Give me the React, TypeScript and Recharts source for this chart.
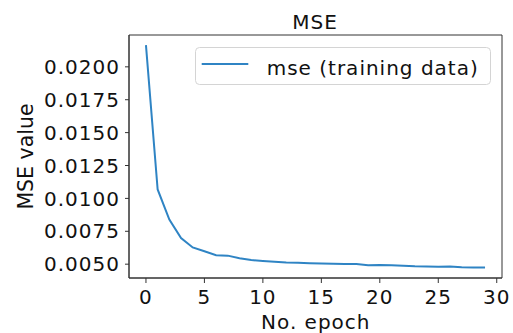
import { LineChart, Line, XAxis, YAxis, Legend, Label, ReferenceArea } from 'recharts'

const epochs = [
  0, 1, 2, 3, 4, 5, 6, 7, 8, 9, 10, 11, 12, 13, 14, 15, 16, 17, 18, 19, 20, 21, 22, 23, 24, 25, 26, 27, 28, 29,
]
const mseTraining = [
  0.02165, 0.01068, 0.00839, 0.00699, 0.00627, 0.00598, 0.00568, 0.00565, 0.00545, 0.00531, 0.00524, 0.00518,
  0.00513, 0.0051, 0.00508, 0.00506, 0.00504, 0.00502, 0.00501, 0.00492, 0.00494, 0.00491, 0.00488, 0.00484,
  0.00483, 0.0048, 0.00483, 0.00477, 0.00474, 0.00475,
]
const xTicks = [0, 5, 10, 15, 20, 25, 30]
const yTicks = [0.005, 0.0075, 0.01, 0.0125, 0.015, 0.0175, 0.02]

const chartTitle = 'MSE'
const xLabel = 'No. epoch'
const yLabel = 'MSE value'
const seriesName = 'mse (training data)'

const data = epochs.map((epoch, i) => ({ epoch, mse: mseTraining[i] }))

const X_DOMAIN = [-1.45, 30.45]
const Y_DOMAIN = [0.00395, 0.02242]

const FONT = '"DejaVu Sans", sans-serif'
const LINE_COLOR = '#2f84c4'
const AXIS_COLOR = '#333'
const TEXT_COLOR = '#111'

const tickStyle = { fontSize: 20, fill: TEXT_COLOR, fontFamily: FONT, letterSpacing: 1 }

const LegendBox = () => (
  <svg width={296} height={38}>
    <rect x={0.5} y={0.5} width={295} height={37} rx={4} fill="rgba(255,255,255,0.8)" stroke="#d4d4d4" />
    <line x1={6.7} y1={17} x2={53.3} y2={17} stroke={LINE_COLOR} strokeWidth={2} />
    <text x={71.7} y={28} fontSize={20} fontFamily={FONT} fill={TEXT_COLOR} letterSpacing={1}>
      {seriesName}
    </text>
  </svg>
)

export default function App() {
  return (
    <div style={{ position: 'absolute', left: 0, top: 0, width: 513, height: 333, background: '#fff' }}>
      <LineChart width={513} height={333} data={data} margin={{ top: 35, right: 11, bottom: 0, left: 0 }}>
        <XAxis
          dataKey="epoch"
          type="number"
          domain={X_DOMAIN}
          ticks={xTicks}
          allowDataOverflow
          height={55}
          tickSize={5}
          tickMargin={7}
          stroke={AXIS_COLOR}
          tick={tickStyle}
        >
          <Label
            content={() => (
              <text x={315.8} y={328.5} textAnchor="middle" fontSize={20} fontFamily={FONT} fill={TEXT_COLOR} letterSpacing={1}>
                {xLabel}
              </text>
            )}
          />
        </XAxis>
        <YAxis
          type="number"
          domain={Y_DOMAIN}
          ticks={yTicks}
          allowDataOverflow
          width={129}
          tickSize={4}
          tickMargin={5}
          stroke={AXIS_COLOR}
          tick={tickStyle}
          tickFormatter={(v: number) => v.toFixed(4)}
        >
          <Label
            content={() => (
              <text
                x={32.5}
                y={156.5}
                transform="rotate(-90 32.5 156.5)"
                textAnchor="middle"
                fontSize={20.5}
                fontFamily={FONT}
                fill={TEXT_COLOR}
              >
                {yLabel}
              </text>
            )}
          />
        </YAxis>
        <ReferenceArea
          x1={X_DOMAIN[0]}
          x2={X_DOMAIN[1]}
          y1={Y_DOMAIN[0]}
          y2={Y_DOMAIN[1]}
          fill="none"
          stroke={AXIS_COLOR}
          strokeWidth={1}
          ifOverflow="visible"
        >
          <Label
            content={() => (
              <text x={315} y={29.3} textAnchor="middle" fontSize={20} fontFamily={FONT} fill={TEXT_COLOR} letterSpacing={1}>
                {chartTitle}
              </text>
            )}
          />
        </ReferenceArea>
        <Legend
          layout="horizontal"
          verticalAlign="middle"
          wrapperStyle={{ left: 195, top: 47, width: 296, height: 38 }}
          content={() => <LegendBox />}
        />
        <Line
          type="linear"
          dataKey="mse"
          name={seriesName}
          stroke={LINE_COLOR}
          strokeWidth={2}
          dot={false}
          activeDot={false}
          isAnimationActive={false}
        />
      </LineChart>
    </div>
  )
}
